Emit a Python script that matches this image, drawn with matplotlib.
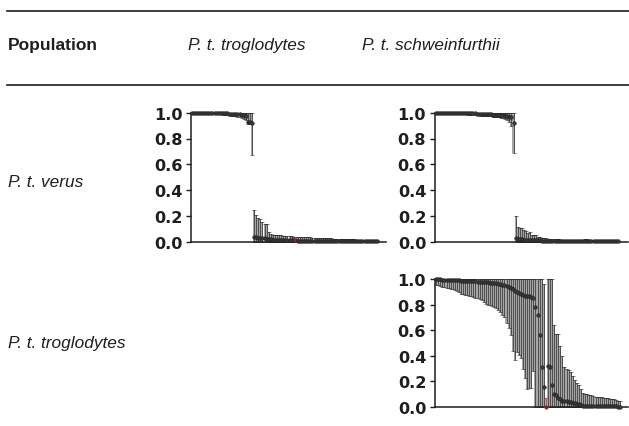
import matplotlib
matplotlib.use("Agg")
import matplotlib.pyplot as plt
import numpy as np

# Header / labels
col_labels = ["P. t. troglodytes", "P. t. schweinfurthii"]
row_labels = ["P. t. verus", "P. t. troglodytes"]
yticks = [0.0, 0.2, 0.4, 0.6, 0.8, 1.0]

# P. t. verus vs P. t. troglodytes (mean, lower, upper)
vt_mean = [
    1.0, 1.0, 1.0, 1.0, 1.0, 1.0, 1.0, 0.999, 0.999, 0.999,
    0.998, 0.998, 0.997, 0.997, 0.996, 0.995, 0.995, 0.994, 0.993, 0.992,
    0.99, 0.99, 0.989, 0.988, 0.985, 0.98, 0.975, 0.93, 0.925, 0.92,
    0.04, 0.035, 0.03, 0.03, 0.025, 0.025, 0.02, 0.02, 0.018, 0.015,
    0.015, 0.014, 0.013, 0.013, 0.012, 0.012, 0.011, 0.011, 0.010, 0.010,
    0.010, 0.009, 0.009, 0.008, 0.008, 0.008, 0.007, 0.007, 0.007, 0.006,
    0.006, 0.006, 0.006, 0.005, 0.005, 0.005, 0.005, 0.005, 0.004, 0.004,
    0.004, 0.004, 0.004, 0.004, 0.003, 0.003, 0.003, 0.003, 0.003, 0.003,
    0.003, 0.003, 0.002, 0.002, 0.002, 0.002, 0.002, 0.002, 0.002, 0.002]
vt_lo = [
    1.0, 1.0, 1.0, 0.998, 0.997, 0.996, 0.995, 0.994, 0.993, 0.992,
    0.99, 0.99, 0.989, 0.988, 0.987, 0.985, 0.984, 0.982, 0.98, 0.978,
    0.976, 0.975, 0.97, 0.968, 0.96, 0.955, 0.94, 0.91, 0.91, 0.67,
    0.0, 0.0, 0.0, 0.0, 0.0, 0.0, 0.0, 0.0, 0.0, 0.0,
    0.0, 0.0, 0.0, 0.0, 0.0, 0.0, 0.0, 0.0, 0.0, 0.0,
    0.0, 0.0, 0.0, 0.0, 0.0, 0.0, 0.0, 0.0, 0.0, 0.0,
    0.0, 0.0, 0.0, 0.0, 0.0, 0.0, 0.0, 0.0, 0.0, 0.0,
    0.0, 0.0, 0.0, 0.0, 0.0, 0.0, 0.0, 0.0, 0.0, 0.0,
    0.0, 0.0, 0.0, 0.0, 0.0, 0.0, 0.0, 0.0, 0.0, 0.0]
vt_hi = [
    1.0, 1.0, 1.0, 1.0, 1.0, 1.0, 1.0, 1.0, 1.0, 1.0,
    1.0, 1.0, 1.0, 1.0, 1.0, 1.0, 1.0, 1.0, 1.0, 1.0,
    1.0, 1.0, 1.0, 1.0, 1.0, 1.0, 1.0, 1.0, 1.0, 1.0,
    0.245, 0.205, 0.18, 0.175, 0.15, 0.14, 0.135, 0.075, 0.06, 0.055,
    0.052, 0.052, 0.05, 0.05, 0.048, 0.047, 0.045, 0.044, 0.043, 0.04,
    0.04, 0.039, 0.038, 0.037, 0.036, 0.035, 0.034, 0.033, 0.032, 0.031,
    0.030, 0.029, 0.028, 0.028, 0.027, 0.026, 0.026, 0.025, 0.024, 0.024,
    0.023, 0.022, 0.022, 0.021, 0.020, 0.020, 0.019, 0.018, 0.018, 0.017,
    0.016, 0.016, 0.015, 0.015, 0.014, 0.014, 0.013, 0.013, 0.012, 0.012]
vt_red = 50

# P. t. verus vs P. t. schweinfurthii
vs_mean = [
    1.0, 1.0, 1.0, 1.0, 1.0, 1.0, 1.0, 1.0, 1.0, 1.0,
    0.999, 0.999, 0.998, 0.998, 0.997, 0.997, 0.996, 0.995, 0.995, 0.994,
    0.993, 0.992, 0.991, 0.99, 0.99, 0.989, 0.988, 0.987, 0.986, 0.985,
    0.984, 0.983, 0.982, 0.98, 0.978, 0.975, 0.97, 0.965, 0.92, 0.03,
    0.02, 0.02, 0.018, 0.017, 0.016, 0.015, 0.014, 0.013, 0.012, 0.011,
    0.010, 0.010, 0.009, 0.009, 0.008, 0.008, 0.008, 0.007, 0.007, 0.007,
    0.006, 0.006, 0.006, 0.005, 0.005, 0.005, 0.005, 0.004, 0.004, 0.004,
    0.004, 0.005, 0.006, 0.007, 0.006, 0.005, 0.004, 0.004, 0.003, 0.003,
    0.003, 0.003, 0.003, 0.003, 0.002, 0.002, 0.002, 0.002, 0.002, 0.002]
vs_lo = [
    1.0, 1.0, 1.0, 1.0, 0.999, 0.998, 0.997, 0.996, 0.995, 0.994,
    0.993, 0.992, 0.99, 0.989, 0.988, 0.987, 0.986, 0.985, 0.984, 0.982,
    0.98, 0.979, 0.978, 0.977, 0.976, 0.975, 0.974, 0.972, 0.97, 0.968,
    0.966, 0.964, 0.962, 0.96, 0.955, 0.945, 0.93, 0.90, 0.685, 0.0,
    0.0, 0.0, 0.0, 0.0, 0.0, 0.0, 0.0, 0.0, 0.0, 0.0,
    0.0, 0.0, 0.0, 0.0, 0.0, 0.0, 0.0, 0.0, 0.0, 0.0,
    0.0, 0.0, 0.0, 0.0, 0.0, 0.0, 0.0, 0.0, 0.0, 0.0,
    0.0, 0.0, 0.0, 0.0, 0.0, 0.0, 0.0, 0.0, 0.0, 0.0,
    0.0, 0.0, 0.0, 0.0, 0.0, 0.0, 0.0, 0.0, 0.0, 0.0]
vs_hi = [
    1.0, 1.0, 1.0, 1.0, 1.0, 1.0, 1.0, 1.0, 1.0, 1.0,
    1.0, 1.0, 1.0, 1.0, 1.0, 1.0, 1.0, 1.0, 1.0, 1.0,
    1.0, 1.0, 1.0, 1.0, 1.0, 1.0, 1.0, 1.0, 1.0, 1.0,
    1.0, 1.0, 1.0, 1.0, 1.0, 1.0, 1.0, 1.0, 1.0, 0.20,
    0.116, 0.11, 0.103, 0.09, 0.085, 0.068, 0.072, 0.055, 0.053, 0.054,
    0.04, 0.035, 0.031, 0.027, 0.025, 0.022, 0.021, 0.02, 0.02, 0.019,
    0.018, 0.017, 0.016, 0.015, 0.014, 0.013, 0.012, 0.012, 0.011, 0.011,
    0.01, 0.012, 0.014, 0.018, 0.02, 0.016, 0.012, 0.011, 0.01, 0.01,
    0.009, 0.009, 0.008, 0.008, 0.008, 0.007, 0.007, 0.007, 0.006, 0.006]
vs_red = None

# P. t. troglodytes vs P. t. schweinfurthii
ts_mean = [
    1.0, 0.998, 0.997, 0.996, 0.995, 0.994, 0.993, 0.992, 0.991, 0.99,
    0.99, 0.989, 0.988, 0.987, 0.986, 0.985, 0.984, 0.983, 0.982, 0.981,
    0.98, 0.979, 0.978, 0.977, 0.975, 0.973, 0.971, 0.97, 0.968, 0.966,
    0.963, 0.96, 0.955, 0.95, 0.945, 0.94, 0.93, 0.92, 0.91, 0.90,
    0.89, 0.88, 0.875, 0.87, 0.868, 0.865, 0.86, 0.85, 0.78, 0.72,
    0.56, 0.31, 0.16, 0.0, 0.32, 0.31, 0.17, 0.10, 0.09, 0.07,
    0.06, 0.05, 0.05, 0.045, 0.04, 0.04, 0.035, 0.03, 0.025, 0.02,
    0.015, 0.01, 0.01, 0.008, 0.008, 0.007, 0.007, 0.006, 0.006, 0.006,
    0.005, 0.005, 0.005, 0.005, 0.004, 0.004, 0.004, 0.004, 0.003, 0.003]
ts_lo = [
    0.955, 0.95, 0.945, 0.94, 0.935, 0.932, 0.93, 0.925, 0.92, 0.915,
    0.905, 0.895, 0.885, 0.88, 0.875, 0.872, 0.87, 0.865, 0.86, 0.855,
    0.85, 0.84, 0.835, 0.82, 0.805, 0.80, 0.795, 0.79, 0.78, 0.77,
    0.755, 0.74, 0.72, 0.70, 0.66, 0.62, 0.56, 0.44, 0.37, 0.43,
    0.41, 0.38, 0.30, 0.23, 0.14, 0.15, 0.145, 0.28, 0.0, 0.0,
    0.0, 0.0, 0.0, 0.0, 0.0, 0.0, 0.0, 0.0, 0.0, 0.0,
    0.0, 0.0, 0.0, 0.0, 0.0, 0.0, 0.0, 0.0, 0.0, 0.0,
    0.0, 0.0, 0.0, 0.0, 0.0, 0.0, 0.0, 0.0, 0.0, 0.0,
    0.0, 0.0, 0.0, 0.0, 0.0, 0.0, 0.0, 0.0, 0.0, 0.0]
ts_hi = [
    1.0, 1.0, 1.0, 1.0, 1.0, 1.0, 1.0, 1.0, 1.0, 1.0,
    1.0, 1.0, 1.0, 1.0, 1.0, 1.0, 1.0, 1.0, 1.0, 1.0,
    1.0, 1.0, 1.0, 1.0, 1.0, 1.0, 1.0, 1.0, 1.0, 1.0,
    1.0, 1.0, 1.0, 1.0, 1.0, 1.0, 1.0, 1.0, 1.0, 1.0,
    1.0, 1.0, 1.0, 1.0, 1.0, 1.0, 1.0, 1.0, 1.0, 1.0,
    1.0, 1.0, 0.96, 0.07, 1.0, 1.0, 1.0, 0.64, 0.57, 0.57,
    0.48, 0.40, 0.31, 0.30, 0.29, 0.27, 0.24, 0.21, 0.19, 0.17,
    0.14, 0.11, 0.10, 0.10, 0.095, 0.09, 0.085, 0.08, 0.08, 0.075,
    0.075, 0.07, 0.07, 0.068, 0.065, 0.065, 0.06, 0.055, 0.05, 0.045]
ts_red = 53

W, H = 629, 427
LABEL_FONT = "Liberation Sans"
INK = "#1e1e1e"


def draw_panel(ax, mean, lo, hi, red, xlim):
    mean = np.array(mean)
    lo = np.array(lo)
    hi = np.array(hi)
    x = np.arange(len(mean))
    colors = [INK] * len(mean)
    if red is not None:
        colors[red] = "#e0202a"
    # grey band behind each whisker
    ax.bar(x, hi - lo, bottom=lo, width=1.0, color="#a6a6a6", linewidth=0,
           zorder=1, clip_on=False)
    for i in range(len(mean)):
        ax.errorbar(x[i], mean[i], yerr=[[mean[i] - lo[i]], [hi[i] - mean[i]]],
                    fmt="o", ms=2.6, mfc="#3a3a3a", mec=colors[i], mew=0.4,
                    ecolor=colors[i], elinewidth=0.45, capsize=1.3, capthick=0.7,
                    zorder=3, clip_on=False)
    ax.set_xlim(*xlim)
    ax.set_ylim(0, 1)
    ax.set_yticks(yticks)
    ax.set_yticklabels(["%.1f" % t for t in yticks], fontweight="bold",
                       fontsize=11.6, family="DejaVu Sans", color=INK)
    ax.set_xticks([])
    for s in ["top", "right"]:
        ax.spines[s].set_visible(False)
    for s in ["left", "bottom"]:
        ax.spines[s].set_linewidth(1.1)
        ax.spines[s].set_color(INK)
    ax.tick_params(axis="y", length=3.5, width=1.0, pad=2.5, colors=INK)
    ax.patch.set_alpha(0)


def axes_at(fig, x0, x1, ytop, ybot):
    return fig.add_axes([x0 / W, 1 - ybot / H, (x1 - x0) / W, (ybot - ytop) / H])


fig = plt.figure(figsize=(W / 100, H / 100), dpi=100)

# table rules
for y in [12, 86]:
    fig.add_artist(plt.Line2D([7 / W, 1.0], [1 - y / H, 1 - y / H],
                              color=INK, lw=1.2, transform=fig.transFigure))

fig.text(8 / W, 1 - 50 / H, "Population", fontweight="bold", fontsize=12.5,
         family=LABEL_FONT, va="baseline", ha="left", color=INK)
fig.text(188 / W, 1 - 50 / H, col_labels[0], style="italic", fontsize=12.4,
         family=LABEL_FONT, va="baseline", ha="left", color=INK)
fig.text(362 / W, 1 - 50 / H, col_labels[1], style="italic", fontsize=12.4,
         family=LABEL_FONT, va="baseline", ha="left", color=INK)
fig.text(8 / W, 1 - 187 / H, row_labels[0], style="italic", fontsize=12.4,
         family=LABEL_FONT, va="baseline", ha="left", color=INK)
fig.text(8 / W, 1 - 348 / H, row_labels[1], style="italic", fontsize=12.4,
         family=LABEL_FONT, va="baseline", ha="left", color=INK)

ax1 = axes_at(fig, 191, 386, 113.7, 242.7)
draw_panel(ax1, vt_mean, vt_lo, vt_hi, vt_red, (-0.3, 93.3))

ax2 = axes_at(fig, 434.5, 628, 113.7, 242.7)
draw_panel(ax2, vs_mean, vs_lo, vs_hi, vs_red, (-0.5, 93.8))

ax3 = axes_at(fig, 434.5, 628, 280, 408)
draw_panel(ax3, ts_mean, ts_lo, ts_hi, ts_red, (-0.8, 92.7))

fig.savefig("out.png", dpi=100)
plt.close(fig)
